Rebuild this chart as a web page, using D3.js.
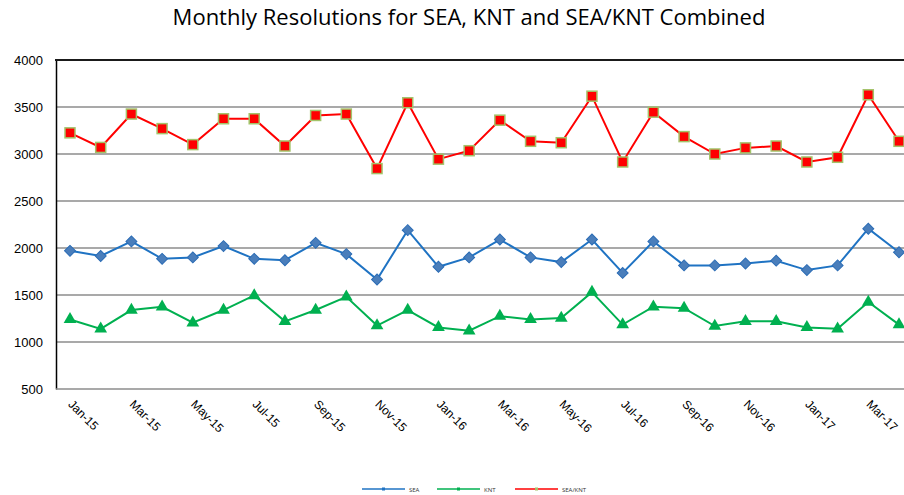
<!DOCTYPE html>
<html>
<head>
<meta charset="utf-8">
<script src="https://cdn.jsdelivr.net/npm/d3@7"></script>
<style>
  body { margin: 0; background: #fff; }
  svg { font-family: "Open Sans", "DejaVu Sans", sans-serif; }
</style>
</head>
<body>
<svg id="chart" width="904" height="495"></svg>
<script>
// data
const months = ['Jan-15','Feb-15','Mar-15','Apr-15','May-15','Jun-15','Jul-15','Aug-15','Sep-15','Oct-15','Nov-15','Dec-15',
  'Jan-16','Feb-16','Mar-16','Apr-16','May-16','Jun-16','Jul-16','Aug-16','Sep-16','Oct-16','Nov-16','Dec-16',
  'Jan-17','Feb-17','Mar-17','Apr-17'];
const sea = [1970,1915,2070,1885,1900,2020,1885,1870,2055,1935,1665,2190,
  1800,1900,2090,1900,1850,2090,1735,2070,1815,1815,1835,1865,1765,1815,2205,1955];
const knt = [1240,1140,1340,1375,1205,1340,1495,1220,1340,1480,1175,1340,
  1155,1120,1275,1240,1255,1530,1185,1375,1360,1170,1220,1220,1155,1140,1425,1185];
const combined = [3225,3070,3425,3270,3100,3375,3375,3085,3410,3425,2845,3545,
  2945,3035,3360,3135,3120,3615,2915,3445,3185,3000,3065,3085,2915,2965,3630,3135];
const yTicks = [500,1000,1500,2000,2500,3000,3500,4000];

const svg = d3.select('#chart');
const width = +svg.attr('width');

const margin = {top:60,left:56,bottom:389};

const x = d3.scalePoint().domain(months).range([70, 899]);
const y = d3.scaleLinear().domain([500, 4000]).range([389, 60]);

// title
svg.append('text')
  .attr('x', 469).attr('y', 25)
  .attr('text-anchor', 'middle')
  .attr('font-size', 22)
  .attr('fill', '#000')
  .text('Monthly  Resolutions for SEA, KNT and SEA/KNT Combined');

// gridlines
svg.append('g').selectAll('line')
  .data(yTicks.filter(d => d > 500 && d < 4000))
  .join('line')
  .attr('x1', margin.left).attr('x2', width)
  .attr('y1', d => y(d)).attr('y2', d => y(d))
  .attr('stroke', '#8c8c8c').attr('stroke-width', 1.5);

// y axis
const yAxis = d3.axisLeft(y).tickValues(yTicks).tickFormat(d3.format('d')).tickSize(0).tickPadding(13);
const gy = svg.append('g').attr('transform', `translate(${margin.left},0)`).call(yAxis);
gy.select('.domain').attr('stroke', '#000').attr('stroke-width', 1.5);
gy.selectAll('text').attr('font-size', 13).attr('fill', '#000');

// top frame and bottom axis
svg.append('line').attr('x1', margin.left - 1).attr('x2', width)
  .attr('y1', y(4000)).attr('y2', y(4000))
  .attr('stroke', '#1a1a1a').attr('stroke-width', 2);
svg.append('line').attr('x1', margin.left).attr('x2', width)
  .attr('y1', y(500)).attr('y2', y(500))
  .attr('stroke', '#8c8c8c').attr('stroke-width', 1.5);

// x axis labels
const xAxis = d3.axisBottom(x)
  .tickValues(months.filter((d, i) => i % 2 === 0))
  .tickSize(0).tickPadding(0);
const gx = svg.append('g').attr('transform', `translate(0,${y(500)})`).call(xAxis);
gx.select('.domain').remove();
gx.selectAll('text')
  .attr('font-size', 12).attr('fill', '#000')
  .attr('text-anchor', 'start')
  .attr('dy', null)
  .attr('transform', 'translate(-3,16) rotate(45)');

const line = d3.line().x((d, i) => x(months[i])).y(d => y(d));

// SEA
svg.append('path').datum(sea).attr('d', line)
  .attr('fill', 'none').attr('stroke', '#1f73c3').attr('stroke-width', 2);
svg.append('g').selectAll('path').data(sea).join('path')
  .attr('d', d3.symbol(d3.symbolSquare, 60)())
  .attr('transform', (d, i) => `translate(${x(months[i])},${y(d)}) rotate(45)`)
  .attr('fill', '#4a7ebb').attr('stroke', '#2b6cb5').attr('stroke-width', 1);

// KNT
svg.append('path').datum(knt).attr('d', line)
  .attr('fill', 'none').attr('stroke', '#00b050').attr('stroke-width', 2);
svg.append('g').selectAll('path').data(knt).join('path')
  .attr('d', d3.symbol(d3.symbolTriangle, 70)())
  .attr('transform', (d, i) => `translate(${x(months[i])},${y(d)})`)
  .attr('fill', '#00b050');

// SEA/KNT
svg.append('path').datum(combined).attr('d', line)
  .attr('fill', 'none').attr('stroke', '#ff0000').attr('stroke-width', 2);
svg.append('g').selectAll('rect').data(combined).join('rect')
  .attr('x', (d, i) => x(months[i]) - 5).attr('y', d => y(d) - 5)
  .attr('width', 10).attr('height', 10)
  .attr('fill', '#ff0000').attr('stroke', '#a3c36a').attr('stroke-width', 1.5);

// legend
const legend = [
  {name: 'SEA', color: '#1f73c3', x: 362},
  {name: 'KNT', color: '#00b050', x: 437},
  {name: 'SEA/KNT', color: '#ff0000', x: 515}
];
const lg = svg.append('g').attr('transform', 'translate(0,489)');
legend.forEach(l => {
  lg.append('line').attr('x1', l.x).attr('x2', l.x + 43)
    .attr('stroke', l.color).attr('stroke-width', 1.5);
  lg.append('rect').attr('x', l.x + 20).attr('y', -1.5).attr('width', 3).attr('height', 3)
    .attr('fill', l.name === 'SEA/KNT' ? '#a3c36a' : l.color);
  lg.append('text').attr('x', l.x + 47).attr('y', 2.5)
    .attr('font-size', 6).attr('fill', '#333').text(l.name);
});
</script>
</body>
</html>
